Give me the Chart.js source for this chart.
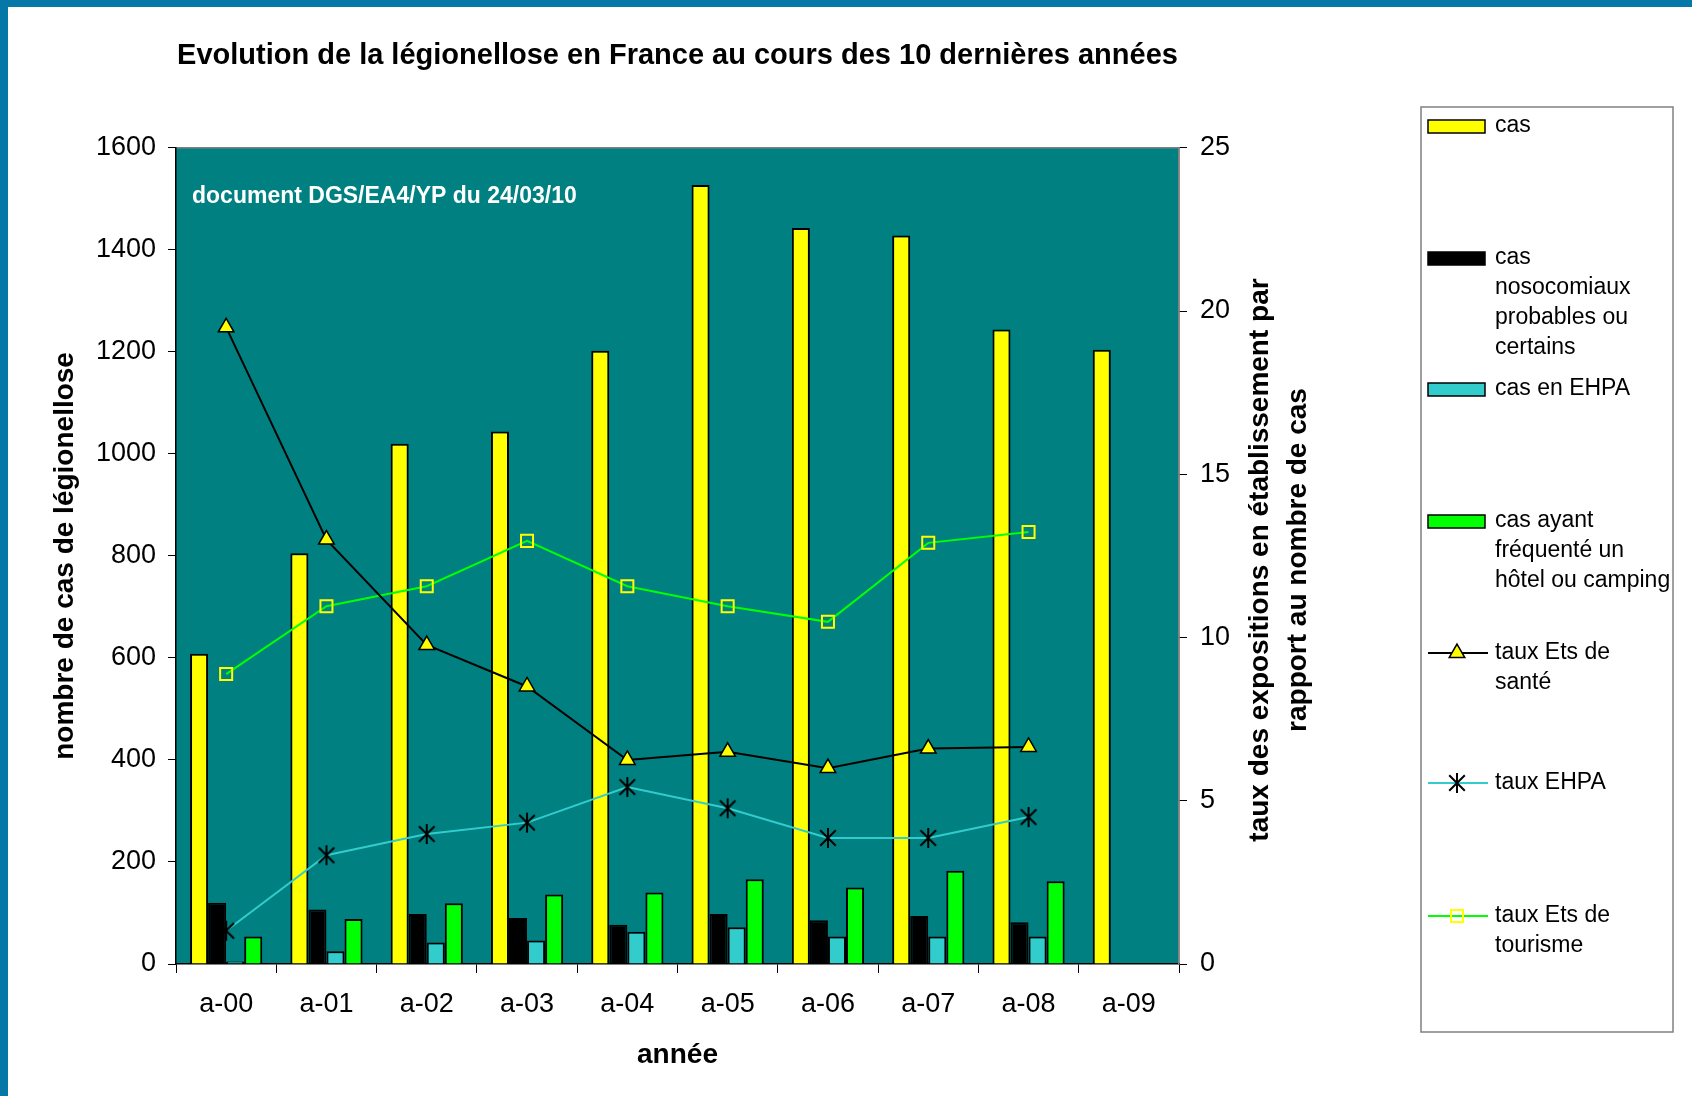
<!DOCTYPE html>
<html>
<head>
<meta charset="utf-8">
<title>Evolution de la légionellose en France</title>
<script src="https://cdn.jsdelivr.net/npm/chart.js@4.4.1/dist/chart.umd.min.js"></script>
<style>
  body { margin: 0; background: #fff; }
  #wrap { position: relative; width: 1692px; height: 1096px; overflow: hidden; }
  #frame { position: absolute; left: 0; top: 0; right: 0; bottom: 0;
           border-left: 8px solid #0578a8; border-top: 7px solid #0578a8; pointer-events: none; }
</style>
</head>
<body>
<div id="wrap">
  <canvas id="chart" width="1692" height="1096"></canvas>
  <div id="frame"></div>
</div>
<script>
// Data
var categories = ["a-00", "a-01", "a-02", "a-03", "a-04", "a-05", "a-06", "a-07", "a-08", "a-09"];
var cas = [608, 805, 1020, 1044, 1202, 1527, 1443, 1428, 1244, 1204];
var casNosocomiaux = [120, 107, 98, 90, 77, 98, 86, 94, 82, null];
var casEhpa = [5, 25, 42, 46, 63, 72, 54, 54, 54, null];
var casHotel = [54, 88, 119, 136, 140, 166, 150, 183, 162, null];
var tauxSante = [19.5, 13.0, 9.77, 8.5, 6.25, 6.5, 6.0, 6.6, 6.65, null];
var tauxEhpa = [1.02, 3.33, 3.98, 4.33, 5.42, 4.77, 3.86, 3.86, 4.5, null];
var tauxTourisme = [8.88, 10.96, 11.57, 12.96, 11.57, 10.96, 10.48, 12.9, 13.23, null];

// Axis ranges
var leftAxis = { min: 0, max: 1600, step: 200 };
var rightAxis = { min: 0, max: 25, step: 5 };

// Texts
var titleText = "Evolution de la légionellose en France au cours des 10 dernières années";
var leftTitle = "nombre de cas de légionellose";
var rightTitle = ["taux des expositions en établissement par", "rapport au nombre de cas"];
var xTitle = "année";
var noteText = "document DGS/EA4/YP du 24/03/10";
var seriesNames = [
  ["cas"],
  ["cas", "nosocomiaux", "probables ou", "certains"],
  ["cas en EHPA"],
  ["cas ayant", "fréquenté un", "hôtel ou camping"],
  ["taux Ets de", "santé"],
  ["taux EHPA"],
  ["taux Ets de", "tourisme"]
];

var FONT = "'Liberation Sans', Arial, sans-serif";
var TEAL = "#008080";

// asterisk marker like the spreadsheet one
function makeStar(size) {
  var c = document.createElement("canvas");
  c.width = size;
  c.height = size;
  var g = c.getContext("2d");
  var m = size / 2, r = size / 2 - 1, d = r * 0.78;
  g.strokeStyle = "#000";
  g.lineWidth = 2;
  g.beginPath();
  g.moveTo(m, m - r); g.lineTo(m, m + r);
  g.moveTo(m - d, m - d); g.lineTo(m + d, m + d);
  g.moveTo(m + d, m - d); g.lineTo(m - d, m + d);
  g.stroke();
  return c;
}
var starImg = makeStar(22);

function drawTriangle(ctx, x, y, r) {
  ctx.beginPath();
  ctx.moveTo(x, y - r);
  ctx.lineTo(x + r * 0.866, y + r * 0.5);
  ctx.lineTo(x - r * 0.866, y + r * 0.5);
  ctx.closePath();
  ctx.fillStyle = "#ffff00";
  ctx.fill();
  ctx.strokeStyle = "#000";
  ctx.lineWidth = 1.5;
  ctx.stroke();
}

var backgroundPlugin = {
  id: "background",
  beforeDraw: function(chart) {
    var ctx = chart.ctx, a = chart.chartArea;
    ctx.save();
    ctx.fillStyle = "#fff";
    ctx.fillRect(0, 0, chart.width, chart.height);
    ctx.fillStyle = TEAL;
    ctx.fillRect(a.left, a.top, a.right - a.left, a.bottom - a.top);
    ctx.strokeStyle = "#808080";
    ctx.lineWidth = 1.5;
    ctx.beginPath();
    ctx.moveTo(a.left, a.top);
    ctx.lineTo(a.right, a.top);
    ctx.lineTo(a.right, a.bottom);
    ctx.stroke();
    ctx.restore();
  }
};

var extrasPlugin = {
  id: "extras",
  afterDraw: function(chart) {
    var ctx = chart.ctx, a = chart.chartArea;
    ctx.save();

    // note inside the plot
    ctx.fillStyle = "#fff";
    ctx.font = "bold 23px " + FONT;
    ctx.textAlign = "left";
    ctx.textBaseline = "middle";
    ctx.fillText(noteText, a.left + 16, a.top + 49);

    // right axis title, reading bottom to top
    ctx.fillStyle = "#000";
    ctx.font = "bold 28px " + FONT;
    ctx.textAlign = "center";
    ctx.translate(a.right + 81, 560);
    ctx.rotate(-Math.PI / 2);
    ctx.fillText(rightTitle[0], 0, 0);
    ctx.fillText(rightTitle[1], 0, 38);
    ctx.restore();

    // legend box
    ctx.save();
    ctx.fillStyle = "#fff";
    ctx.fillRect(1421, 107, 252, 925);
    ctx.strokeStyle = "#808080";
    ctx.lineWidth = 1.5;
    ctx.strokeRect(1421, 107, 252, 925);

    var rows = [126, 258, 389, 521, 653, 783, 916];
    var ds = chart.data.datasets;
    for (var i = 0; i < ds.length; i++) {
      var y = rows[i];
      var d = ds[i];
      if (d.type === "line") {
        ctx.strokeStyle = d.borderColor;
        ctx.lineWidth = 2;
        ctx.beginPath();
        ctx.moveTo(1428, y);
        ctx.lineTo(1488, y);
        ctx.stroke();
        if (d.pointStyle === "triangle") {
          drawTriangle(ctx, 1457, y, 9);
        } else if (d.pointStyle === "rect") {
          ctx.strokeStyle = d.pointBorderColor;
          ctx.lineWidth = 2;
          ctx.strokeRect(1451, y - 6, 12, 12);
        } else {
          ctx.drawImage(starImg, 1457 - 11, y - 11);
        }
      } else {
        ctx.fillStyle = d.backgroundColor;
        ctx.fillRect(1428, y - 6, 57, 13);
        ctx.strokeStyle = "#000";
        ctx.lineWidth = 1.5;
        ctx.strokeRect(1428, y - 6, 57, 13);
      }
      ctx.fillStyle = "#000";
      ctx.font = "23px " + FONT;
      ctx.textAlign = "left";
      ctx.textBaseline = "middle";
      for (var k = 0; k < seriesNames[i].length; k++) {
        ctx.fillText(seriesNames[i][k], 1495, y + k * 30);
      }
    }
    ctx.restore();
  }
};

function barSet(idx, values, color) {
  return {
    type: "bar",
    label: seriesNames[idx].join(" "),
    data: values,
    backgroundColor: color,
    borderColor: "#000",
    borderWidth: 2,
    yAxisID: "y",
    order: 1,
    categoryPercentage: 0.72,
    barPercentage: 1.0
  };
}

function plainNumber(value) {
  return String(value);
}

var ctx = document.getElementById("chart").getContext("2d");
var chart = new Chart(ctx, {
  type: "bar",
  data: {
    labels: categories,
    datasets: [
      barSet(0, cas, "#ffff00"),
      barSet(1, casNosocomiaux, "#000000"),
      barSet(2, casEhpa, "#33cccc"),
      barSet(3, casHotel, "#00ff00"),
      {
        type: "line",
        label: seriesNames[4].join(" "),
        data: tauxSante,
        yAxisID: "y1",
        order: 0,
        borderColor: "#000",
        borderWidth: 2,
        tension: 0,
        pointStyle: "triangle",
        pointRadius: 9,
        pointBackgroundColor: "#ffff00",
        pointBorderColor: "#000",
        pointBorderWidth: 1.5
      },
      {
        type: "line",
        label: seriesNames[5].join(" "),
        data: tauxEhpa,
        yAxisID: "y1",
        order: 0,
        borderColor: "#33cccc",
        borderWidth: 2,
        tension: 0,
        pointStyle: starImg,
        pointRadius: 10
      },
      {
        type: "line",
        label: seriesNames[6].join(" "),
        data: tauxTourisme,
        yAxisID: "y1",
        order: 0,
        borderColor: "#00ff00",
        borderWidth: 2,
        tension: 0,
        pointStyle: "rect",
        pointRadius: 8.5,
        pointBackgroundColor: "rgba(0,0,0,0)",
        pointBorderColor: "#ffff00",
        pointBorderWidth: 2
      }
    ]
  },
  options: {
    responsive: false,
    animation: false,
    devicePixelRatio: 1,
    layout: { padding: { left: 0, right: 373, top: 0, bottom: 0 } },
    plugins: {
      legend: { display: false },
      tooltip: { enabled: false },
      title: {
        display: true,
        text: titleText,
        fullSize: false,
        color: "#000",
        font: { family: FONT, size: 29, weight: "bold" },
        padding: { top: 39, bottom: 74 }
      }
    },
    scales: {
      x: {
        afterFit: function(s) { s.height = 132; },
        grid: { drawOnChartArea: false, tickLength: 9, color: "#000" },
        border: { color: "#000", width: 1.5 },
        ticks: { color: "#000", padding: 15, font: { family: FONT, size: 27 } },
        title: {
          display: true,
          text: xTitle,
          color: "#000",
          font: { family: FONT, size: 28, weight: "bold" },
          padding: { top: 0, bottom: 24 }
        }
      },
      y: {
        position: "left",
        min: leftAxis.min,
        max: leftAxis.max,
        afterFit: function(s) { s.width = 176; },
        grid: { drawOnChartArea: false, tickLength: 8, color: "#000" },
        border: { color: "#000", width: 1.5 },
        ticks: { stepSize: leftAxis.step, color: "#000", padding: 12, callback: plainNumber, font: { family: FONT, size: 27 } },
        title: {
          display: true,
          text: leftTitle,
          color: "#000",
          font: { family: FONT, size: 28, weight: "bold" },
          padding: { top: 48, bottom: 0 }
        }
      },
      y1: {
        position: "right",
        min: rightAxis.min,
        max: rightAxis.max,
        afterFit: function(s) { s.width = 140; },
        grid: { drawOnChartArea: false, tickLength: 8, color: "#000" },
        border: { color: "#808080", width: 1.5 },
        ticks: { stepSize: rightAxis.step, color: "#000", padding: 13, callback: plainNumber, font: { family: FONT, size: 27 } }
      }
    }
  },
  plugins: [backgroundPlugin, extrasPlugin]
});
</script>
</body>
</html>
